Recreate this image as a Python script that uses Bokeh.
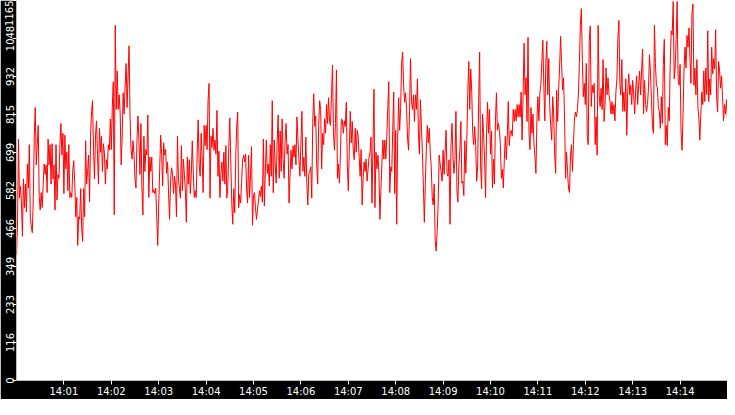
import pandas as pd
from bokeh.plotting import figure
from bokeh.models import ColumnDataSource, Range1d, FixedTicker, DatetimeTickFormatter
from bokeh.embed import file_html
from bokeh.resources import INLINE

# one sample every 1.25 s from 14:00:00 to 14:15:00
day = "2024-05-14"
start = pd.Timestamp(day + " 14:00:00")
end = pd.Timestamp(day + " 14:15:00")

values = [
    385, 471, 740, 559, 596, 544, 442, 618, 530, 602,
    517, 664, 590, 723, 500, 471, 453, 559, 749, 837,
    661, 723, 782, 564, 523, 576, 530, 599, 664, 632,
    661, 576, 740, 661, 723, 602, 726, 618, 661, 523,
    723, 553, 632, 620, 723, 788, 691, 758, 573, 752,
    649, 700, 582, 723, 561, 576, 561, 647, 674, 605,
    502, 561, 414, 502, 494, 588, 465, 426, 588, 502,
    735, 602, 641, 691, 547, 749, 825, 858, 708, 618,
    752, 796, 694, 602, 773, 700, 749, 641, 726, 700,
    602, 677, 649, 723, 706, 802, 708, 837, 916, 508,
    1089, 831, 949, 831, 876, 817,
    661, 749, 882, 817, 905, 972, 837, 934, 1026, 808,
    708, 679, 735, 691, 618, 590, 737, 811, 737, 632,
    788, 590, 508, 749, 641, 708, 691, 814, 561, 685,
    641, 685, 576, 585, 573, 590, 502, 414, 532, 649,
    752, 691, 596, 729, 691, 708, 635, 670, 573, 494,
    611, 652, 635, 573, 626, 602, 502, 749, 618, 588,
    559, 720, 582, 679, 632, 582, 485, 685, 602, 677,
    573, 632, 735, 641, 561, 582, 561, 706, 799, 661,
    626, 758, 679, 576, 782, 720, 782, 708, 858, 911,
    559, 749, 714, 773, 706, 737, 694, 828, 626, 703,
    561, 635, 670, 611, 700,
    602, 720, 559, 596, 714, 805, 670, 544, 479, 588,
    514, 679, 779, 823, 530, 570, 544, 611, 677, 691,
    670, 694, 588, 544, 691, 561, 632, 717, 476, 567,
    576, 530, 494, 523, 550, 582, 564, 596, 547, 740,
    535, 641, 737, 635, 664, 596, 723, 626, 858, 576,
    737, 661, 605, 735, 814, 620, 765, 641, 802, 677,
    620, 737, 788, 694, 723, 544, 626, 706, 649, 720,
    685, 723, 661, 808, 737, 679, 626, 723, 825, 641,
    685, 626, 746, 605, 538, 635, 641, 655, 559, 791,
    879, 779, 811, 661, 602, 782, 858, 831, 649, 758,
    723, 802, 758, 846, 788,
    867, 794, 782, 876, 967, 758, 706, 788, 952, 620,
    664, 605, 691, 802, 796, 758, 796, 779, 853, 661,
    582, 706, 825, 729, 794, 706, 677, 773, 700, 767,
    749, 685, 626, 708, 538, 618, 670, 641, 679, 611,
    647, 685, 700, 746, 544, 726, 893, 530, 700, 649,
    691, 641, 494, 582, 664, 737, 679, 737, 679, 749,
    840, 916, 576, 655, 641, 767, 884, 573, 767, 479,
    743, 867, 767, 837, 972, 1007, 905, 853, 882, 831,
    743, 706, 825, 987, 855, 831, 876, 794, 876, 831,
    925, 758, 694, 861, 782, 700, 602, 485, 605, 706,
    782, 729, 773, 700, 655,
    561, 538, 602, 429, 397, 456, 544, 691, 664, 641,
    611, 706, 632, 700, 767, 635, 626, 677, 479, 723,
    788, 685, 635, 677, 825, 582, 547, 661, 706, 794,
    605, 611, 567, 735, 635, 737, 884, 978, 831, 955,
    884, 758, 723, 779, 720, 611, 655, 853, 1007, 655,
    588, 817, 758, 679, 561, 758, 853, 758, 831, 694,
    765, 590, 679, 602, 796, 882, 767, 788, 767, 723,
    620, 647, 590, 677, 749, 677, 749, 855, 720, 758,
    767, 749, 831, 794, 831, 796, 846, 808, 846, 808,
    884, 737, 876, 1034, 876, 928, 794, 1052, 758, 708,
    837, 758, 817, 729, 685,
    635, 796, 870, 796, 884, 905, 978, 1043, 905, 796,
    972, 1040, 876, 987, 840, 779, 737, 870, 817, 691,
    635, 890, 794, 890, 964, 1055, 972, 890, 928, 802,
    620, 700, 641, 590, 576, 691, 723, 641, 723, 802,
    823, 808, 831, 876, 972, 1089, 1140, 984, 870, 911,
    846, 972, 749, 723, 1043, 1087, 840, 905, 882, 911,
    723, 808, 691, 1089, 876, 840, 896, 831, 984, 794,
    846, 958, 876, 928, 876, 855, 817, 855, 817, 846,
    796, 884, 925, 1046, 1104, 911, 876, 984, 825, 884,
    825, 925, 752, 890, 940, 876, 905, 846, 920, 876,
    817, 890, 934, 846, 905,
    949, 876, 949, 1016, 817, 920, 846, 825, 846, 899,
    999, 943, 861, 779, 758, 1089, 972, 905, 899, 837,
    823, 773, 870, 788, 969, 1046, 723, 782, 720, 837,
    796, 969, 1072, 1060, 1162, 925, 958, 1046, 1162, 920,
    905, 969, 758, 706, 817, 958, 1022, 958, 1058, 1022,
    1081, 987, 911, 1125, 1154, 905, 958, 876, 984, 840,
    802, 737, 817, 884, 846, 949, 855, 958, 876, 1072,
    855, 925, 876, 1022, 940, 987, 955, 1075, 867, 823,
    978, 949, 896, 934, 867, 796, 846, 817, 861, 796,
]

y_ticks = [0, 116.5, 233, 349.5, 466, 582.5, 699, 815.5, 932, 1048.5, 1165]
y_labels = ["0", "116", "233", "349", "466", "582", "699", "815", "932", "1048", "1165"]
x_labels = ["14:01", "14:02", "14:03", "14:04", "14:05", "14:06", "14:07",
            "14:08", "14:09", "14:10", "14:11", "14:12", "14:13", "14:14"]

times = pd.date_range(start, periods=len(values), freq="1250ms")
src = ColumnDataSource(dict(t=times, v=values))

p = figure(width=727, height=399, x_axis_type="datetime",
           x_range=Range1d(start, end), y_range=Range1d(0, 1165),
           output_backend="svg", toolbar_location=None, min_border=0)

p.line(x="t", y="v", source=src, color="red", line_width=1)

p.background_fill_color = "white"
p.border_fill_color = "black"
p.outline_line_color = None
p.grid.visible = False

x_ms = [pd.Timestamp(day + " " + s).value // 10**6 for s in x_labels]
p.xaxis.ticker = FixedTicker(ticks=x_ms)
fmt = "%H:%M"
p.xaxis.formatter = DatetimeTickFormatter(seconds=fmt, minsec=fmt, minutes=fmt,
                                          hourmin=fmt, hours=fmt)

p.yaxis.ticker = FixedTicker(ticks=y_ticks)
over = {t: l for t, l in zip(y_ticks, y_labels)}
over[1165] = ""
p.yaxis.major_label_overrides = over
p.yaxis.major_label_orientation = "vertical"

for ax in (p.xaxis[0], p.yaxis[0]):
    ax.axis_line_color = None
    ax.major_tick_line_color = "white"
    ax.major_tick_in = 0
    ax.major_tick_out = 4
    ax.minor_tick_line_color = None
    ax.major_label_text_color = "white"
    ax.major_label_text_font = "DejaVu Sans"
    ax.major_label_text_font_size = "10px"
p.xaxis.major_label_standoff = 1
p.yaxis.major_label_standoff = -1

# the top value sits pulled down inside the plot height: use the axis label slot,
# padded with no-break spaces so the centred text lands below the top edge
ya = p.yaxis[0]
ya.axis_label = y_labels[-1] + "\u00a0" * 8
ya.axis_label_align = "end"
ya.axis_label_standoff = -12
ya.axis_label_text_color = "white"
ya.axis_label_text_font = "DejaVu Sans"
ya.axis_label_text_font_size = "10px"
ya.axis_label_text_font_style = "normal"

open("out.html", "w").write(file_html(p, INLINE))
